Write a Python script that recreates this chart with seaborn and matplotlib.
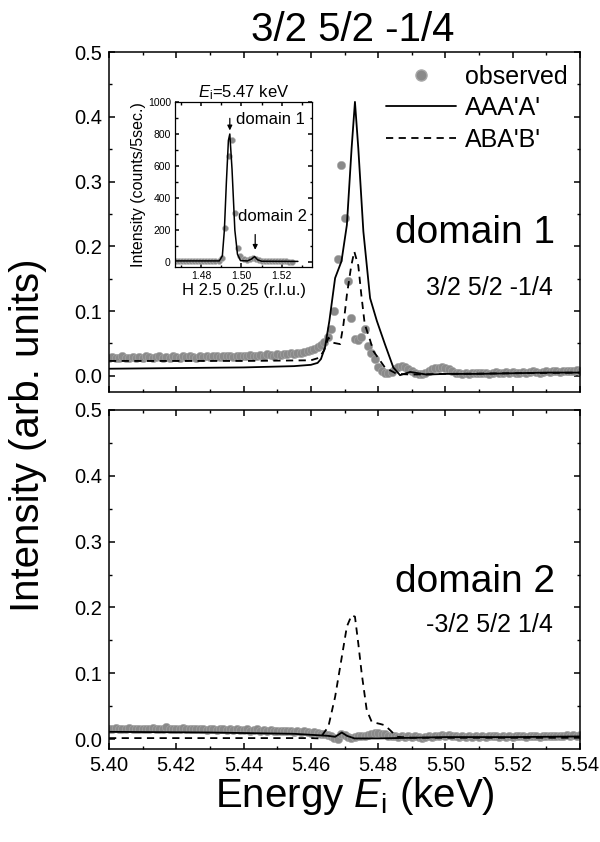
import numpy as np
import pandas as pd
import matplotlib
matplotlib.use("Agg")
import matplotlib.pyplot as plt
from matplotlib.ticker import MultipleLocator, FormatStrFormatter
from matplotlib.lines import Line2D
import seaborn as sns

# scan grid of incident energy (keV), 1 eV steps
energy = np.round(np.linspace(5.400, 5.540, 141), 3)

# domain 1 observed intensity (arb. units)
obs_dom1 = [
    0.028, 0.029, 0.027, 0.028, 0.030, 0.028, 0.027, 0.029, 0.028, 0.029,
    0.028, 0.030, 0.029, 0.027, 0.029, 0.030, 0.028, 0.029, 0.028, 0.030,
    0.029, 0.028, 0.030, 0.029, 0.031, 0.029, 0.028, 0.030, 0.029, 0.030,
    0.029, 0.031, 0.030, 0.029, 0.030, 0.031, 0.030, 0.029, 0.031, 0.030,
    0.031, 0.030, 0.032, 0.031, 0.030, 0.032, 0.031, 0.033, 0.032, 0.031,
    0.033, 0.032, 0.034, 0.033, 0.035, 0.034, 0.036, 0.035, 0.037, 0.038,
    0.040, 0.042, 0.044, 0.047, 0.052, 0.060, 0.072, 0.100, 0.180, 0.326,
    0.243, 0.147, 0.090, 0.057, 0.055, 0.060, 0.072, 0.046, 0.036, 0.026,
    0.014, 0.008, 0.005, 0.004, 0.006, 0.011, 0.014, 0.015, 0.013, 0.010,
    0.007, 0.004, 0.003, 0.003, 0.005, 0.008, 0.010, 0.012, 0.012, 0.013,
    0.012, 0.010, 0.007, 0.005, 0.004, 0.003, 0.004, 0.003, 0.004, 0.005,
    0.004, 0.005, 0.004, 0.003, 0.005, 0.006, 0.005, 0.004, 0.006, 0.005,
    0.006, 0.005, 0.004, 0.006, 0.005, 0.006, 0.007, 0.006, 0.005, 0.006,
    0.007, 0.006, 0.007, 0.008, 0.006, 0.007, 0.008, 0.007, 0.008, 0.009,
    0.008,
]

# domain 2 observed intensity
obs_dom2 = [
    0.016, 0.015, 0.017, 0.016, 0.015, 0.016, 0.017, 0.015, 0.016, 0.016,
    0.015, 0.016, 0.015, 0.017, 0.016, 0.015, 0.016, 0.018, 0.016, 0.015,
    0.016, 0.015, 0.017, 0.016, 0.015, 0.016, 0.015, 0.016, 0.015, 0.014,
    0.015, 0.016, 0.014, 0.015, 0.016, 0.014, 0.015, 0.014, 0.015, 0.014,
    0.014, 0.015, 0.013, 0.014, 0.015, 0.013, 0.014, 0.013, 0.014, 0.013,
    0.013, 0.012, 0.013, 0.012, 0.013, 0.011, 0.012, 0.011, 0.012, 0.011,
    0.010, 0.011, 0.009, 0.008, 0.007, 0.006, 0.004, 0.002, 0.000, 0.008,
    0.006, 0.003, 0.002, 0.003, 0.004, 0.004, 0.005, 0.006, 0.008, 0.009,
    0.010, 0.008, 0.007, 0.005, 0.004, 0.004, 0.003, 0.004, 0.003, 0.004,
    0.003, 0.004, 0.003, 0.002, 0.003, 0.004, 0.003, 0.005, 0.004, 0.006,
    0.005, 0.006, 0.005, 0.004, 0.003, 0.004, 0.003, 0.004, 0.003, 0.004,
    0.003, 0.004, 0.003, 0.004, 0.005, 0.004, 0.003, 0.004, 0.003, 0.004,
    0.003, 0.004, 0.005, 0.004, 0.003, 0.004, 0.005, 0.004, 0.003, 0.004,
    0.004, 0.005, 0.004, 0.005, 0.004, 0.005, 0.006, 0.005, 0.006, 0.005,
    0.006,
]

# calculated spectra, AAA'A' model
aaa_e1 = [5.400, 5.420, 5.440, 5.455, 5.460, 5.462, 5.463, 5.4642, 5.4655,
          5.4672, 5.4691, 5.4707, 5.4721, 5.4731, 5.4741, 5.4756, 5.4776,
          5.4796, 5.482, 5.4845, 5.4865, 5.4895, 5.4944, 5.500, 5.510,
          5.520, 5.530, 5.540]
aaa_i1 = [0.011, 0.012, 0.013, 0.015, 0.017, 0.020, 0.026, 0.044, 0.085,
          0.151, 0.177, 0.233, 0.351, 0.423, 0.351, 0.223, 0.120,
          0.085, 0.049, 0.013, 0.001, 0.006, 0.002, 0.003, 0.003,
          0.004, 0.005, 0.005]
aaa_e2 = [5.400, 5.430, 5.455, 5.465, 5.4672, 5.4692, 5.4707, 5.473, 5.480,
          5.490, 5.500, 5.520, 5.540]
aaa_i2 = [0.011, 0.010, 0.008, 0.005, 0.0035, 0.010, 0.005, 0.001, 0.001,
          0.002, 0.003, 0.003, 0.004]

# ABA'B' model
aba_e1 = [5.400, 5.440, 5.460, 5.4625, 5.464, 5.4652, 5.4667, 5.4687, 5.4697,
          5.4707, 5.472, 5.4729, 5.4741, 5.475, 5.476, 5.4776, 5.4786,
          5.482, 5.4855, 5.490, 5.500, 5.520, 5.540]
aba_i1 = [0.023, 0.023, 0.024, 0.028, 0.040, 0.059, 0.051, 0.049, 0.080,
          0.125, 0.170, 0.192, 0.170, 0.125, 0.080, 0.055, 0.038,
          0.013, 0.003, 0.002, 0.003, 0.004, 0.005]
aba_e2 = [5.400, 5.460, 5.4627, 5.4652, 5.4672, 5.4692, 5.4707, 5.4721,
          5.4731, 5.4741, 5.4751, 5.4766, 5.4781, 5.4806, 5.482, 5.4856,
          5.490, 5.540]
aba_i2 = [0.0015, 0.0015, 0.001, 0.019, 0.064, 0.125, 0.171, 0.188,
          0.186, 0.145, 0.100, 0.044, 0.026, 0.023, 0.021, 0.0035,
          0.002, 0.002]

# inset: H scan at Ei = 5.47 keV
h_obs = [1.4675, 1.4690, 1.4705, 1.4720, 1.4735, 1.4750, 1.4765, 1.4780,
         1.4795, 1.4810, 1.4825, 1.4840, 1.4855, 1.4870, 1.4888, 1.4903,
         1.4920, 1.4937, 1.4953, 1.4967, 1.4982, 1.4995, 1.5010, 1.5025,
         1.5040, 1.5055, 1.5070, 1.5085, 1.5100, 1.5115, 1.5130, 1.5145,
         1.5160, 1.5175, 1.5190, 1.5205, 1.5220, 1.5235, 1.5250]
counts_obs = [5, 6, 5, 6, 5, 6, 5, 6, 5, 7, 6, 5, 6, 8, 10, 28,
              214, 660, 760, 310, 90, 40, 20, 15, 20, 25, 20, 12, 8, 6,
              5, 6, 5, 6, 7, 6, 5, 4, 3]
h_fit = [1.467, 1.489, 1.4905, 1.4915, 1.4925, 1.4935, 1.4942, 1.4953,
         1.4967, 1.4980, 1.4995, 1.5030, 1.5050, 1.5065, 1.5080, 1.5100,
         1.5250, 1.5280]
counts_fit = [8, 8, 40, 200, 500, 760, 800, 580, 200, 50, 10, 8, 20,
              35, 15, 6, 5, 5]

sns.set_theme(style="ticks")
plt.rcParams["font.family"] = ["Liberation Sans", "DejaVu Sans"]
plt.rcParams.update({
    "mathtext.fontset": "custom",
    "mathtext.rm": "Liberation Sans",
    "mathtext.it": "Liberation Sans:italic",
    "text.color": "black",
    "axes.labelcolor": "black",
    "axes.linewidth": 1.1,
    "xtick.direction": "in",
    "ytick.direction": "in",
    "xtick.top": True,
    "ytick.right": True,
    "xtick.major.width": 1.1,
    "ytick.major.width": 1.1,
    "xtick.minor.width": 1.0,
    "ytick.minor.width": 1.0,
    "xtick.major.size": 4.5,
    "ytick.major.size": 4.5,
    "xtick.minor.size": 2.5,
    "ytick.minor.size": 2.5,
    "xtick.color": "black",
    "ytick.color": "black",
    "xtick.labelcolor": "black",
    "ytick.labelcolor": "black",
    "axes.edgecolor": "black",
})

GRAY = "#8a8a8a"
fig = plt.figure(figsize=(6, 8.42), dpi=100)
ax1 = fig.add_axes([0.1817, 0.5344, 0.785, 0.4038])
ax2 = fig.add_axes([0.1817, 0.1105, 0.785, 0.4026])

panels = [
    (ax1, obs_dom1, aaa_e1, aaa_i1, aba_e1, aba_i1, -0.025),
    (ax2, obs_dom2, aaa_e2, aaa_i2, aba_e2, aba_i2, -0.015),
]
for ax, obs, ae, ai, be, bi, ylo in panels:
    sns.scatterplot(x=energy, y=obs, ax=ax, color=GRAY, s=36,
                    edgecolor="#a8a8a8", linewidth=0.4, zorder=2)
    sns.lineplot(x=ae, y=ai, ax=ax, color="black", lw=1.3, sort=False,
                 estimator=None, zorder=3)
    sns.lineplot(x=be, y=bi, ax=ax, color="black", lw=1.3, sort=False,
                 estimator=None, linestyle=(0, (4, 3)), zorder=3)
    ax.set_xlim(5.40, 5.54)
    ax.set_ylim(ylo, 0.5)
    ax.xaxis.set_major_locator(MultipleLocator(0.02))
    ax.xaxis.set_minor_locator(MultipleLocator(0.01))
    ax.yaxis.set_major_locator(MultipleLocator(0.1))
    ax.yaxis.set_minor_locator(MultipleLocator(0.05))
    ax.xaxis.set_major_formatter(FormatStrFormatter("%.2f"))
    ax.yaxis.set_major_formatter(FormatStrFormatter("%.1f"))
    ax.tick_params(which="both", top=True, right=True, labelsize=14.5, pad=5)
    ax.set_xlabel("")
    ax.set_ylabel("")

ax1.tick_params(labelbottom=False)

handles = [
    Line2D([], [], ls="none", marker="o", ms=8, color=GRAY, mec="#a8a8a8"),
    Line2D([], [], color="black", lw=1.3),
    Line2D([], [], color="black", lw=1.3, ls=(0, (4, 3))),
]
ax1.legend(handles, ["observed", "AAA'A'", "ABA'B'"], loc="upper right",
           frameon=False, fontsize=18, handlelength=2.8, handletextpad=0.35,
           labelspacing=0.3, borderaxespad=0.5, borderpad=0.0)

ax1.text(0.947, 0.468, "domain 1", transform=ax1.transAxes, fontsize=28,
         ha="right", va="center")
ax1.text(0.943, 0.306, "3/2 5/2 -1/4", transform=ax1.transAxes, fontsize=18,
         ha="right", va="center")
ax2.text(0.947, 0.493, "domain 2", transform=ax2.transAxes, fontsize=28,
         ha="right", va="center")
ax2.text(0.943, 0.366, "-3/2 5/2 1/4", transform=ax2.transAxes, fontsize=18,
         ha="right", va="center")

fig.text(0.587, 0.964, "3/2 5/2 -1/4", fontsize=29, ha="center", va="center")
fig.text(0.047, 0.483, "Intensity (arb. units)", fontsize=29, rotation=90,
         ha="center", va="center")
fig.text(0.592, 0.055, r"Energy $\mathit{E}_{\mathrm{i}}$ (keV)", fontsize=29,
         ha="center", va="center")

# inset
axi = fig.add_axes([0.2917, 0.6829, 0.2283, 0.196])
sns.scatterplot(x=h_obs, y=counts_obs, ax=axi, color=GRAY, s=18,
                edgecolor="#b5b5b5", linewidth=0.4, zorder=2)
sns.lineplot(x=h_fit, y=counts_fit, ax=axi, color="black", lw=1.1,
             sort=False, estimator=None, zorder=3)
axi.set_xlim(1.467, 1.535)
axi.set_ylim(-30, 1000)
axi.xaxis.set_major_locator(MultipleLocator(0.02))
axi.xaxis.set_minor_locator(MultipleLocator(0.01))
axi.yaxis.set_major_locator(MultipleLocator(200))
axi.yaxis.set_minor_locator(MultipleLocator(100))
axi.xaxis.set_major_formatter(FormatStrFormatter("%.2f"))
axi.tick_params(which="both", top=True, right=True, labelsize=7.5, pad=3)
axi.tick_params(which="major", length=3)
axi.tick_params(which="minor", length=1.8)
for sp in axi.spines.values():
    sp.set_linewidth(0.9)
axi.set_title(r"$\mathit{E}_{\mathrm{i}}$=5.47 keV", fontsize=12, pad=2)
axi.set_xlabel("H 2.5 0.25 (r.l.u.)", fontsize=12, labelpad=1)
axi.set_ylabel("Intensity (counts/5sec.)", fontsize=11.5, labelpad=1)

axi.annotate("", xy=(1.4942, 805), xytext=(1.4942, 915),
             arrowprops=dict(arrowstyle="-|>", color="black", lw=0.9,
                             mutation_scale=7))
axi.text(1.4973, 890, "domain 1", fontsize=12, ha="left", va="center")
axi.annotate("", xy=(1.5068, 60), xytext=(1.5068, 190),
             arrowprops=dict(arrowstyle="-|>", color="black", lw=0.9,
                             mutation_scale=7))
axi.text(1.4985, 285, "domain 2", fontsize=12, ha="left", va="center")

fig.savefig("out.png", dpi=100)
